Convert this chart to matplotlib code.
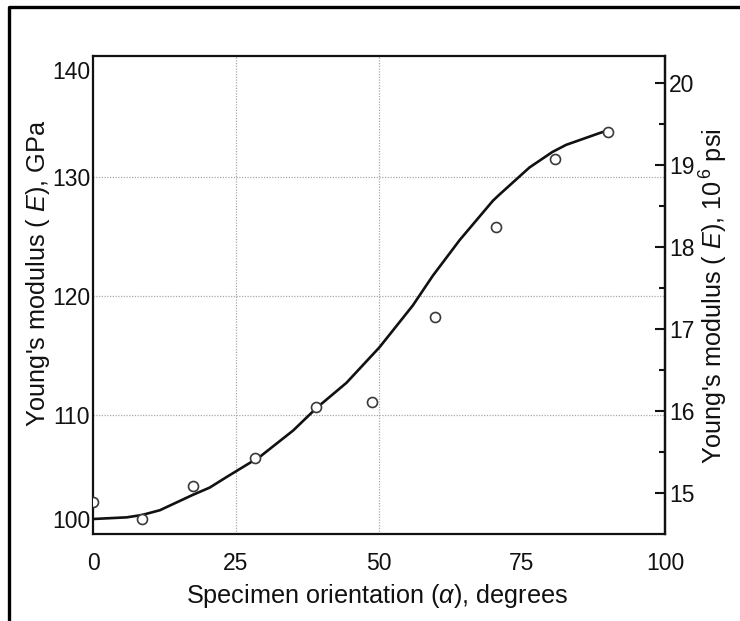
import matplotlib
matplotlib.use("Agg")
import matplotlib.pyplot as plt
import matplotlib.transforms as mtransforms
from matplotlib.lines import Line2D
from matplotlib.ticker import FixedLocator, MultipleLocator

plt.rcParams['font.family'] = ['Liberation Sans', 'DejaVu Sans']
plt.rcParams['mathtext.fontset'] = 'custom'
plt.rcParams['mathtext.rm'] = 'Liberation Sans'
plt.rcParams['mathtext.it'] = 'Liberation Sans:italic'
plt.rcParams['mathtext.bf'] = 'Liberation Sans:bold'

# Measured Young's modulus against specimen orientation
orientation_deg = [0.0, 8.6, 17.5, 28.3, 39.0, 48.8, 59.8, 70.5, 80.8, 90.0]
modulus_gpa = [102.7, 101.3, 104.0, 106.4, 110.7, 111.1, 118.2, 125.8, 131.5, 133.8]

# Calculated modulus curve
curve_deg = [0.0, 5.9, 8.6, 11.7, 17.5, 20.4, 23.4, 29.2, 35.0, 39.1, 44.3,
             50.1, 55.9, 59.4, 64.1, 69.9, 71.0, 76.3, 80.3, 82.7, 88.6, 89.9]
curve_gpa = [101.26, 101.4, 101.6, 102.0, 103.3, 103.9, 104.8, 106.5, 108.7,
             110.6, 112.7, 115.7, 119.2, 121.7, 124.7, 128.0, 128.5, 130.8,
             132.1, 132.7, 133.7, 133.9]

x_ticks = [0, 25, 50, 75, 100]
x_grid = [25, 50]
gpa_ticks = [100, 110, 120, 130, 140]
gpa_grid = [110, 120, 130]
psi_ticks = [15, 16, 17, 18, 19, 20]
GPA_PER_MPSI = 6.895

TICK_FS = 16.5
LABEL_FS = 18.2
INK = '#111111'

fig = plt.figure(figsize=(7.4, 6.21), dpi=100)
W, H = 740, 621
ax = fig.add_axes([93 / W, (H - 534) / H, 572 / W, 478 / H])

ax.set_xlim(0, 100)
ax.set_ylim(100, 140.17)

grid_kw = dict(color='#a8a8a8', linestyle=(0, (1, 1.2)), linewidth=0.9, zorder=1)
for v in x_grid:
    ax.axvline(v, **grid_kw)
for h in gpa_grid:
    ax.axhline(h, **grid_kw)

ax.plot(curve_deg, curve_gpa, color=INK, linewidth=1.9, zorder=3,
        solid_capstyle='round', solid_joinstyle='round')
ax.plot(orientation_deg, modulus_gpa, linestyle='none', marker='o',
        markersize=7.2, markerfacecolor='white', markeredgecolor='#3a3a3a',
        markeredgewidth=1.2, zorder=4)

for s in ax.spines.values():
    s.set_linewidth(1.6)
    s.set_color(INK)

ax.set_xticks(x_ticks)
ax.set_yticks(gpa_ticks)
ax.tick_params(axis='x', length=0, pad=13, labelsize=TICK_FS, colors=INK)
ax.tick_params(axis='y', length=0, pad=2, labelsize=TICK_FS, colors=INK)

# end labels sit inside the frame
pts = fig.dpi_scale_trans
ylabels = ax.get_yticklabels()
ylabels[0].set_va('bottom')
ylabels[0].set_transform(ylabels[0].get_transform() +
                         mtransforms.ScaledTranslation(0, 0.5 / 72, pts))
ylabels[-1].set_va('top')
ylabels[-1].set_transform(ylabels[-1].get_transform() +
                          mtransforms.ScaledTranslation(0, -2 / 72, pts))

ax.set_xlabel(r"Specimen orientation ($\alpha$), degrees", fontsize=LABEL_FS,
              color=INK, va='baseline')
ax.xaxis.set_label_coords(0.4956, -0.1444)
ax.set_ylabel(r"Young's modulus ( $E$), GPa", fontsize=LABEL_FS, color=INK,
              va='baseline', ha='center')
ax.yaxis.set_label_coords(-0.0839, 0.545)

sec = ax.secondary_yaxis('right', functions=(lambda e: e / GPA_PER_MPSI,
                                             lambda p: p * GPA_PER_MPSI))
sec.spines['right'].set_linewidth(1.6)
sec.spines['right'].set_color(INK)
sec.yaxis.set_major_locator(FixedLocator(psi_ticks))
sec.yaxis.set_minor_locator(MultipleLocator(0.5))
sec.tick_params(axis='y', which='major', direction='in', length=7, width=1.5,
                pad=3, labelsize=TICK_FS, colors=INK)
sec.tick_params(axis='y', which='minor', direction='in', length=4, width=1.5,
                colors=INK)
ax.text(1.1014, 0.498, r"Young's modulus ( $E$), 10$^{\,6}$ psi",
        transform=ax.transAxes, rotation=90, rotation_mode='anchor',
        ha='center', va='baseline', fontsize=LABEL_FS, color=INK)

# page frame along the left and top
fig.add_artist(Line2D([9 / W, 9 / W, 1.0], [0.0, 1 - 7 / H, 1 - 7 / H],
                      transform=fig.transFigure, color='black', linewidth=2.4))

fig.savefig('out.png', dpi=100, facecolor='white')
